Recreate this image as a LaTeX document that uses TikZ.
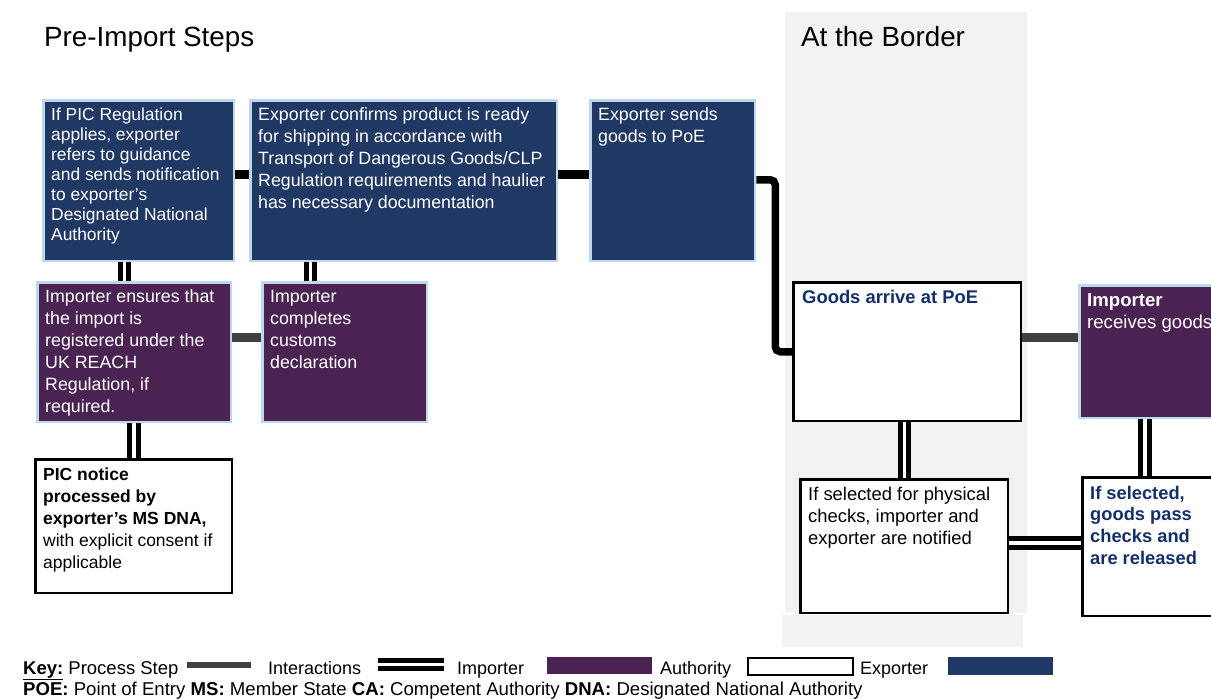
\documentclass[tikz,border=0pt]{standalone}
\usepackage{fontspec}
\setmainfont{Liberation Sans}
\definecolor{navy}{HTML}{203864}
\definecolor{purp}{HTML}{4B2353}
\definecolor{edgeblue}{HTML}{BDD7EE}
\definecolor{darkblue}{HTML}{13306B}
\definecolor{bggrey}{HTML}{F2F2F2}
\definecolor{stepgrey}{HTML}{404040}
\newcommand{\ltxt}[3]{{\fontsize{#1}{#2}\selectfont\begin{tabular}[t]{@{}l@{}}#3\end{tabular}}}
\pgfdeclarelayer{back}
\pgfdeclarelayer{bg}
\pgfsetlayers{back,bg,main}
\tikzset{
  boxbase/.style={anchor=north west, inner sep=0pt, line width=2.5pt},
  navybox/.style={boxbase, draw=edgeblue, fill=navy},
  purpbox/.style={boxbase, draw=edgeblue, fill=purp},
  whitebox/.style={boxbase, draw=black, fill=white},
  txt/.style={anchor=base west, inner sep=0pt, text=white},
  btxt/.style={anchor=base west, inner sep=0pt, text=black},
  blackbar/.style={line width=8.5pt, black},
  greybar/.style={line width=9pt, stepgrey},
  dbl/.style={line width=5pt, double=white, double distance=3.5pt, draw=black},
}
\begin{document}
\begin{tikzpicture}[x=1pt,y=-1pt]
\useasboundingbox (0,0) rectangle (1211,699);
\begin{pgfonlayer}{back}
  \fill[bggrey] (785,12) rectangle (1027,613);
  \fill[bggrey] (782,615) rectangle (1023,647);
\end{pgfonlayer}

% titles
\node[btxt, font=\fontsize{27.8}{32}\selectfont] (t1) at (44,46) {Pre-Import Steps};
\node[btxt, font=\fontsize{27.8}{32}\selectfont] (t2) at (801,46) {At the Border};

% boxes
\node[navybox, minimum width=190.5, minimum height=160.5] (A) at (42.25,99.25) {};
\node[navybox, minimum width=306.5, minimum height=160.5] (B) at (249.25,99.25) {};
\node[navybox, minimum width=164.5, minimum height=160.5] (C) at (589.25,99.25) {};
\node[purpbox, minimum width=193.5, minimum height=139.5] (D) at (36.25,281.25) {};
\node[purpbox, minimum width=164.5, minimum height=139.5] (E) at (261.25,281.25) {};
\node[whitebox, minimum width=196.5, minimum height=133.5] (F) at (34.25,458.25) {};
\node[whitebox, minimum width=227.5, minimum height=138.5] (G) at (792.25,281.25) {};
\node[purpbox, minimum width=160, minimum height=132.5] (H) at (1078.25,284.25) {};
\node[whitebox, minimum width=207.5, minimum height=133.5] (I) at (799.25,478.25) {};
\node[whitebox, minimum width=160, minimum height=138.5] (J) at (1081.25,476.25) {};

% texts
\node[txt] (At) at (51,120) {\ltxt{17.4}{20}{If PIC Regulation\\applies, exporter\\refers to guidance\\and sends notification\\to exporter’s\\Designated National\\Authority}};
\node[txt] (Bt) at (258,120) {\ltxt{17.8}{22}{Exporter confirms product is ready\\for shipping in accordance with\\Transport of Dangerous Goods/CLP\\Regulation requirements and haulier\\has necessary documentation}};
\node[txt] (Ct) at (598,120) {\ltxt{17.8}{22}{Exporter sends\\goods to PoE}};
\node[txt] (Dt) at (45,302) {\ltxt{17.8}{22}{Importer ensures that\\the import is\\registered under the\\UK REACH\\Regulation, if\\required.}};
\node[txt] (Et) at (270,302) {\ltxt{17.8}{22}{Importer\\completes\\customs\\declaration}};
\node[btxt] (Ft) at (43,480) {\ltxt{17.5}{22}{\textbf{PIC notice}\\\textbf{processed by}\\\textbf{exporter’s MS DNA,}\\with explicit consent if\\applicable}};
\node[btxt, text=darkblue] (Gt) at (802,303) {\ltxt{18.4}{22}{\textbf{Goods arrive at PoE}}};
\node[txt] (Ht) at (1087,306) {\ltxt{18.6}{22}{\textbf{Importer}\\receives goods}};
\node[btxt] (It) at (808,500) {\ltxt{18.4}{22.3}{If selected for physical\\checks, importer and\\exporter are notified}};
\node[btxt, text=darkblue] (Jt) at (1090,499) {\ltxt{18.3}{21.7}{\textbf{If selected,}\\\textbf{goods pass}\\\textbf{checks and}\\\textbf{are released}}};

% connectors
\begin{pgfonlayer}{bg}
  \draw[blackbar] ([yshift=6.5pt]A.east) -- ([yshift=6.5pt]B.west);
  \draw[blackbar] ([yshift=6.5pt]B.east) -- ([yshift=6.5pt]C.west);
  \draw[line width=7.5pt, black, rounded corners=5pt] ([yshift=1pt]C.east) -- ++(19,0) |- (G.west);
  \draw[greybar] ([yshift=14.5pt]D.east) -- ([yshift=14.5pt]E.west);
  \draw[greybar] ([yshift=14.2pt]G.east) -- ([yshift=14.2pt]G.east -| H.west);
  \draw[dbl] ([xshift=-14.2pt]A.south) -- ([xshift=-14.2pt]A.south |- D.north);
  \draw[dbl] ([xshift=-93.5pt]B.south) -- ([xshift=-93.5pt]B.south |- E.north);
  \draw[dbl] (F.north) -- (F.north |- D.south);
  \draw[dbl] (I.north) -- (I.north |- G.south);
  \draw[dbl] ([xshift=-14.75pt]H.south) -- ([xshift=-14.75pt]H.south |- J.north);
  \draw[dbl] ([yshift=3.5pt]I.east) -- ([yshift=3.5pt]I.east -| J.west);
\end{pgfonlayer}

% legend
\node[btxt, font=\fontsize{18.5}{22}\selectfont] (k1) at (23,674) {\underline{\textbf{Key:}} Process Step};
\draw[line width=6pt, stepgrey] (187,665) -- (251,665);
\node[btxt, font=\fontsize{18}{22}\selectfont] (k2) at (268,674) {Interactions};
\draw[dbl] (378,664.5) -- (444,664.5);
\node[btxt, font=\fontsize{18}{22}\selectfont] (k3) at (457,674) {Importer};
\fill[purp] (547,657) rectangle (652,674);
\node[btxt, font=\fontsize{18}{22}\selectfont] (k4) at (660,674) {Authority};
\draw[line width=2pt, fill=white] (748,658) rectangle (853,675);
\node[btxt, font=\fontsize{18}{22}\selectfont] (k5) at (860,674) {Exporter};
\fill[navy] (948,657) rectangle (1053,675);
\node[btxt, font=\fontsize{18.6}{22}\selectfont] (k6) at (23,695) {\textbf{POE:} Point of Entry \textbf{MS:} Member State \textbf{CA:} Competent Authority \textbf{DNA:} Designated National Authority};
\end{tikzpicture}
\end{document}
